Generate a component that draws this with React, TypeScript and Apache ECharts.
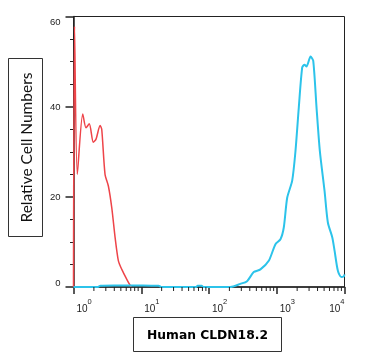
import React, { useEffect, useRef } from "react";
import * as echarts from "echarts";

// Red histogram (control): x = fluorescence intensity, y = relative cell number
const redX = [1, 1.035, 1.138, 1.368, 1.53, 1.71, 1.96, 2.15, 2.47, 2.61, 2.92, 3.27, 3.67, 4.11, 4.6, 5.16, 6.12, 7.09];
const redY = [0, 57.8, 25.0, 38.4, 35.3, 36.2, 32.1, 32.8, 35.8, 35.0, 25.0, 22.4, 17.6, 11.0, 5.8, 3.9, 1.7, 0];

// Cyan histogram (Human CLDN18.2)
const cyanX = [1, 2.3, 2.5, 4, 8, 14, 18, 20, 65, 68, 78, 82, 206.5, 290, 365, 457, 574, 762, 957, 1135, 1270, 1426, 1690, 1891, 2115, 2376, 2570, 2750, 3154, 3453, 3866, 4325, 5077, 5680, 6606, 7143, 7985, 8973, 9796, 10000];
const cyanY = [0, 0, 0.3, 0.35, 0.35, 0.3, 0.3, 0, 0, 0.3, 0.3, 0, 0, 0.7, 1.3, 3.3, 3.9, 5.8, 9.5, 10.6, 13.2, 19.8, 23.6, 30.2, 39.8, 48.7, 49.3, 48.9, 51.1, 50.2, 39.8, 30.2, 21.3, 14.3, 11.0, 8.0, 3.6, 2.2, 2.4, 2.8];

// Axis ticks
const xMajorExponents = [0, 1, 2, 3, 4];
const xMinorMultipliers = [2, 3, 4, 5, 6, 7, 8, 9];
const yTicks = [0, 20, 40, 60];

const yTitle = "Relative Cell Numbers";
const xTitle = "Human CLDN18.2";

export default function App() {
  const ref = useRef<HTMLDivElement>(null);
  useEffect(() => {
    if (!ref.current) return;
    const chart = echarts.init(ref.current, null, { renderer: "svg" });
    const minorTicks: number[][] = [];
    xMajorExponents.slice(0, -1).forEach((e) => {
      xMinorMultipliers.forEach((m) => minorTicks.push([m * Math.pow(10, e), 0]));
    });
    const axisColor = "#222";
    chart.setOption({
      animation: false,
      grid: {
        left: 73.5,
        right: 24.5,
        top: 16.5,
        bottom: 70,
        show: true,
        borderColor: axisColor,
        borderWidth: 1,
        backgroundColor: "transparent",
      },
      xAxis: {
        type: "log",
        logBase: 10,
        min: Math.pow(10, xMajorExponents[0]),
        max: Math.pow(10, xMajorExponents[xMajorExponents.length - 1]),
        axisLine: { show: true, lineStyle: { color: axisColor, width: 1.5 } },
        axisTick: { show: true, length: 7, lineStyle: { color: axisColor, width: 1.5 } },
        splitLine: { show: false },
        axisLabel: {
          margin: 10,
          align: "left",
          alignMaxLabel: "right",
          formatter: (v: number) => `{b|10}{s|${Math.round(Math.log10(v))}}`,
          rich: {
            b: { fontSize: 10, fontFamily: "Liberation Sans", color: "#222", padding: [6, 0, 0, 3] },
            s: { fontSize: 7.5, fontFamily: "Liberation Sans", color: "#222", verticalAlign: "top" },
          },
        },
      },
      yAxis: {
        type: "value",
        min: yTicks[0],
        max: yTicks[yTicks.length - 1],
        interval: 20,
        axisLine: { show: true, lineStyle: { color: axisColor, width: 1.5 } },
        axisTick: { show: true, length: 8, lineStyle: { color: axisColor, width: 1.5 } },
        minorTick: { show: true, splitNumber: 4, length: 3.5, lineStyle: { color: axisColor, width: 1 } },
        splitLine: { show: false },
        axisLabel: {
          margin: 13,
          fontSize: 9.5,
          fontFamily: "Liberation Sans",
          color: "#222",
          verticalAlignMaxLabel: "top",
          verticalAlignMinLabel: "bottom",
        },
      },
      series: [
        {
          type: "line",
          data: redX.map((x, i) => [x, redY[i]]),
          showSymbol: false,
          smooth: 0.25,
          lineStyle: { color: "#ee4449", width: 1.5 },
          z: 3,
        },
        {
          type: "line",
          data: cyanX.map((x, i) => [x, cyanY[i]]),
          showSymbol: false,
          smooth: 0.25,
          lineStyle: { color: "#2cc3ea", width: 2 },
          z: 4,
        },
        {
          type: "custom",
          clip: false,
          silent: true,
          data: minorTicks,
          renderItem: (params: any, api: any) => {
            const p = api.coord([api.value(0), api.value(1)]);
            return {
              type: "line",
              shape: { x1: p[0], y1: p[1], x2: p[0], y2: p[1] + 4 },
              style: { stroke: axisColor, lineWidth: 1 },
            };
          },
          z: 5,
        },
      ],
      graphic: [
        {
          type: "rect",
          shape: { x: 8.5, y: 58.5, width: 34, height: 178 },
          style: { fill: "#fff", stroke: "#333", lineWidth: 1 },
        },
        {
          type: "text",
          x: 26,
          y: 147.5,
          rotation: Math.PI / 2,
          style: {
            text: yTitle,
            fontFamily: "Lato",
            fontSize: 15.5,
            fill: "#111",
            align: "center",
            verticalAlign: "middle",
          },
        },
        {
          type: "rect",
          shape: { x: 133.5, y: 317.5, width: 148, height: 34 },
          style: { fill: "#fff", stroke: "#333", lineWidth: 1 },
        },
        {
          type: "text",
          x: 207.5,
          y: 334.5,
          style: {
            text: xTitle,
            fontFamily: "DejaVu Sans",
            fontWeight: "bold",
            fontSize: 12.3,
            fill: "#000",
            align: "center",
            verticalAlign: "middle",
          },
        },
      ],
    });
    return () => chart.dispose();
  }, []);
  return <div ref={ref} style={{ position: "fixed", left: 0, top: 0, width: 369, height: 357 }} />;
}
